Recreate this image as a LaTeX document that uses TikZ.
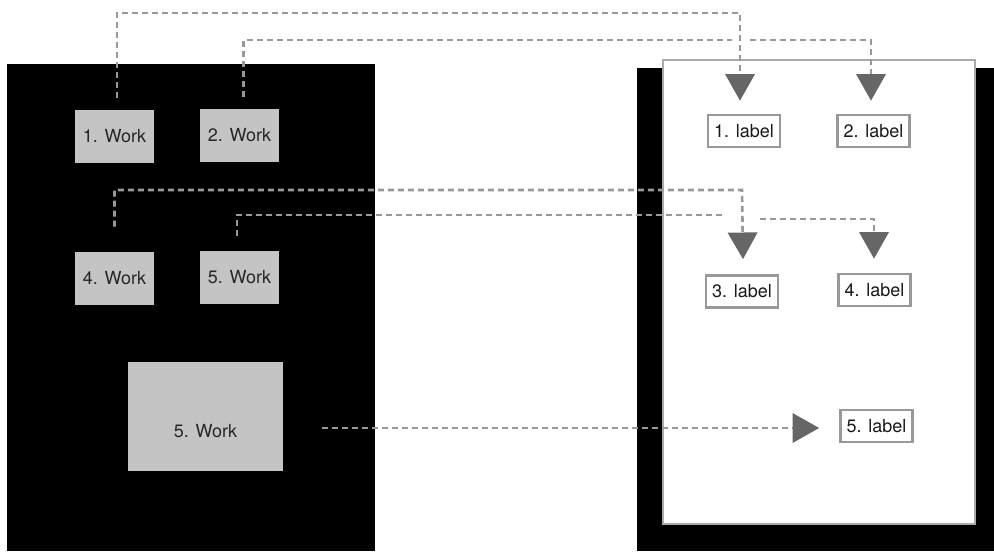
\documentclass[tikz,border=0pt]{standalone}
\usepackage{fontspec}
\setmainfont{TeX Gyre Heros}
\usetikzlibrary{calc,arrows.meta}
\definecolor{workgray}{HTML}{C4C4C4}
\definecolor{linkgray}{HTML}{999999}
\definecolor{tipgray}{HTML}{666666}
\definecolor{framegray}{HTML}{AAAAAA}

\begin{document}
\begin{tikzpicture}[x=0.75pt, y=-0.75pt,
    work/.style={fill=workgray, text=black!85, minimum width=59.25pt, minimum height=39.75pt, inner sep=0pt, font=\fontsize{13.5}{15}\selectfont},
    bigwork/.style={work, minimum width=116.25pt, minimum height=81.75pt, text height=32pt, text depth=0pt},
    lbl/.style={draw=linkgray, line width=2pt, fill=white, text=black!90, minimum width=54pt, minimum height=24pt, inner sep=0pt, font=\fontsize{13.5}{15}\selectfont},
    link/.style={draw=linkgray, line width=2pt, dash pattern=on 4.5pt off 3pt},
    tip/.style={-{Triangle[length=20pt, width=22pt, color=tipgray, fill=tipgray]}}]
    \useasboundingbox (0,0) rectangle (994,551);

    % Backgrounds
    \fill[black] (7,64) rectangle (375,551);
    \fill[black] (637,68) rectangle (994,551);
    \draw[draw=framegray, line width=2pt, fill=white] (663,60) rectangle (975,524);

    % Work boxes
    \node[work] (w1) at (114.5,136.5) {1. Work};
    \node[work] (w2) at (239.5,135.5) {2. Work};
    \node[work] (w4) at (114.5,278.5) {4. Work};
    \node[work] (w5a) at (239.5,277.5) {5. Work};
    \node[bigwork] (w5b) at (205.5,416.5) {5. Work};

    % Labels
    \node[lbl] (l1) at (744,131) {1. label};
    \node[lbl] (l2) at (873.5,131) {2. label};
    \node[lbl] (l3) at (742,291.5) {3. label};
    \node[lbl] (l4) at (874.5,290) {4. label};
    \node[lbl] (l5) at (876.5,426) {5. label};

    % Connectors
    \draw[link, tip] ($(w2.north)+(4,-12)$) |- (732,40) (750,40) -| ($(l2.north)+(-2.5,-13)$);
    \draw[link, tip] ($(w1.north)+(2.5,-12)$) |- (740,13) -- ($(l1.north)+(-4,-13)$);
    \draw[link, tip] ($(w5a.north)+(-2.5,-15)$) |- (725,215) (760,219) -| ($(l4.north)+(-0.5,-14)$);
    \draw[link, tip] ($(w4.north)+(0,-25)$) |- (742,190) -- ($(l3.north)+(1,-15)$);
    \draw[link, tip] ($(w5b.east)+(39,11.5)$) -- ($(l5.west)+(-20,2)$);
\end{tikzpicture}
\end{document}
